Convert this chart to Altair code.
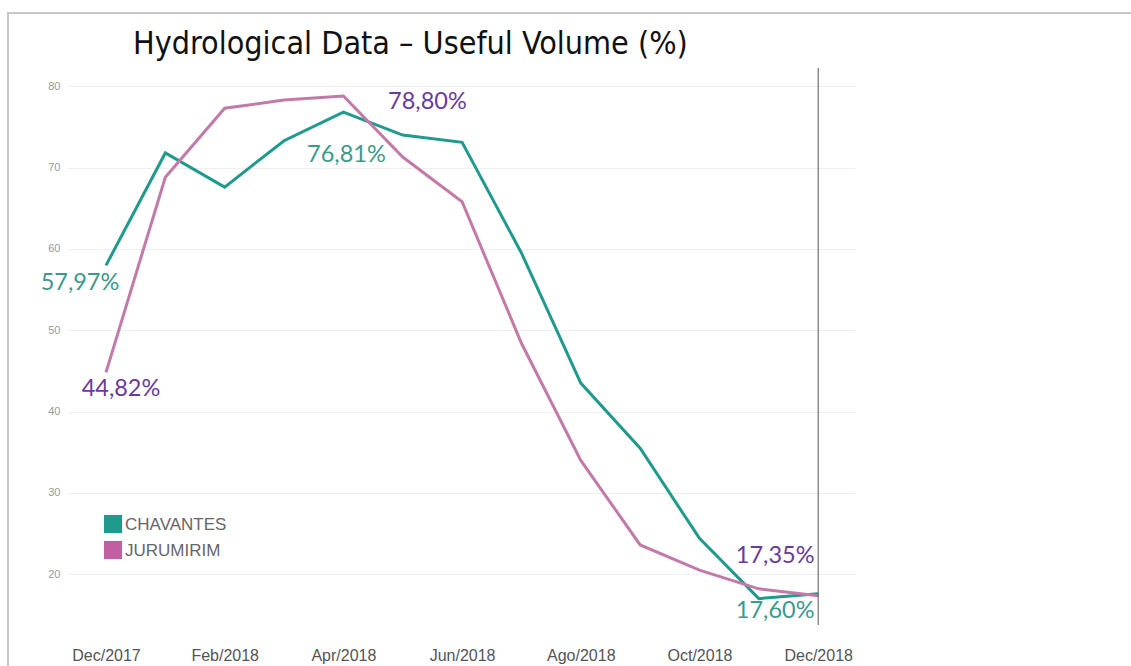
import altair as alt
import pandas as pd

# Monthly useful volume (%) of the two reservoirs, Dec/2017 .. Dec/2018
months = ["Dec/2017", "Jan/2018", "Feb/2018", "Mar/2018", "Apr/2018", "May/2018",
          "Jun/2018", "Jul/2018", "Ago/2018", "Sep/2018", "Oct/2018", "Nov/2018", "Dec/2018"]
chavantes = [57.97, 71.8, 67.6, 73.3, 76.81, 74.0, 73.1, 59.5, 43.5, 35.5, 24.4, 17.0, 17.60]
jurumirim = [44.82, 68.8, 77.3, 78.3, 78.80, 71.3, 65.8, 48.4, 34.0, 23.6, 20.5, 18.2, 17.35]
series_names = ["CHAVANTES", "JURUMIRIM"]
tick_labels = ["Dec/2017", "Feb/2018", "Apr/2018", "Jun/2018", "Ago/2018", "Oct/2018", "Dec/2018"]
title_text = "Hydrological Data \u2013 Useful Volume (%)"

rows = []
for i, m in enumerate(months):
    rows.append({"idx": i, "month": m, "series": series_names[0], "value": chavantes[i]})
    rows.append({"idx": i, "month": m, "series": series_names[1], "value": jurumirim[i]})
df = pd.DataFrame(rows)

line_colors = ["#1f9a8c", "#c27aa8"]
legend_colors = ["#1f9a8c", "#c060a0"]
teal_text = "#3a9a8c"
purple_text = "#6a3a9c"

x_scale = alt.Scale(domain=[-0.64, 12.62], nice=False, zero=False)
y_scale = alt.Scale(domain=[14, 82], nice=False, zero=False)

label_expr = "[" + ",".join(f"'{t}'" for t in tick_labels) + "][round(datum.value / 2)]"

x_enc = alt.X("idx:Q", scale=x_scale,
              axis=alt.Axis(values=[0, 2, 4, 6, 8, 10, 12], labelExpr=label_expr, grid=False,
                            domain=False, ticks=False, labelPadding=24, labelFontSize=16,
                            labelFont="Liberation Sans", labelColor="#555555", title=None))
y_enc = alt.Y("value:Q", scale=y_scale,
              axis=alt.Axis(values=[20, 30, 40, 50, 60, 70, 80], grid=True, gridColor="#efefef",
                            domain=False, ticks=False, labelPadding=8, labelFontSize=11,
                            labelFont="Liberation Sans", labelColor="#9a9a9a", title=None))

lines = alt.Chart(df).mark_line(strokeWidth=3).encode(
    x=x_enc,
    y=y_enc,
    color=alt.Color("series:N",
                    scale=alt.Scale(domain=series_names, range=line_colors),
                    legend=None),
    detail="series:N",
)

# Value annotations at the first, peak and last points
def annotate(values, i, color, dx, dy):
    v = values[i]
    d = pd.DataFrame({"idx": [i], "value": [v], "label": [f"{v:.2f}".replace(".", ",") + "%"]})
    return alt.Chart(d).mark_text(font="Lato", fontSize=23.5, color=color, dx=dx, dy=dy).encode(
        x=alt.X("idx:Q", scale=x_scale), y=alt.Y("value:Q", scale=y_scale), text="label:N")

notes = [
    annotate(chavantes, 0, teal_text, -26, 18),
    annotate(jurumirim, 0, purple_text, 15, 17),
    annotate(chavantes, 4, teal_text, 3, 43),
    annotate(jurumirim, 4, purple_text, 84, 6),
    annotate(jurumirim, 12, purple_text, -43, -40),
    annotate(chavantes, 12, teal_text, -43, 17),
]

# Legend: square swatch plus name for each reservoir
one = pd.DataFrame({"a": [0]})
legend_layers = []
for k, (name, col) in enumerate(zip(series_names, legend_colors)):
    yy = 454 + 26 * k
    legend_layers.append(
        alt.Chart(one).mark_square(size=330, color=col, opacity=1).encode(
            x=alt.value(45), y=alt.value(yy)))
    legend_layers.append(
        alt.Chart(one).mark_text(text=name, align="left", baseline="middle", fontSize=17,
                                 font="Liberation Sans", color="#666666").encode(
            x=alt.value(57), y=alt.value(yy + 1)))

# Title
title = alt.Chart(one).mark_text(text=title_text, align="left", baseline="middle", fontSize=32,
                                 font="DejaVu Sans Condensed", color="#111111").encode(
    x=alt.value(65), y=alt.value(-26))

# Vertical marker at the last month
marker = alt.Chart(pd.DataFrame({"idx": [12]})).mark_rule(color="#555555", strokeWidth=1).encode(
    x=alt.X("idx:Q", scale=x_scale), y=alt.value(-2), y2=alt.value(555))

frame = alt.Chart(one).mark_rect(
    fill="transparent", stroke="#c8c8c8", strokeWidth=2).encode(
    x=alt.value(-60), x2=alt.value(1200), y=alt.value(-57), y2=alt.value(700))

chart = alt.layer(frame, lines, marker, *notes, *legend_layers, title).properties(
    width=787, height=553,
    padding={"left": 68, "top": 70, "right": 276, "bottom": 43},
    autosize=alt.AutoSizeParams(type="none"),
).configure_view(stroke=None)

chart.save("out.html", embed_options={"renderer": "svg", "actions": False})
